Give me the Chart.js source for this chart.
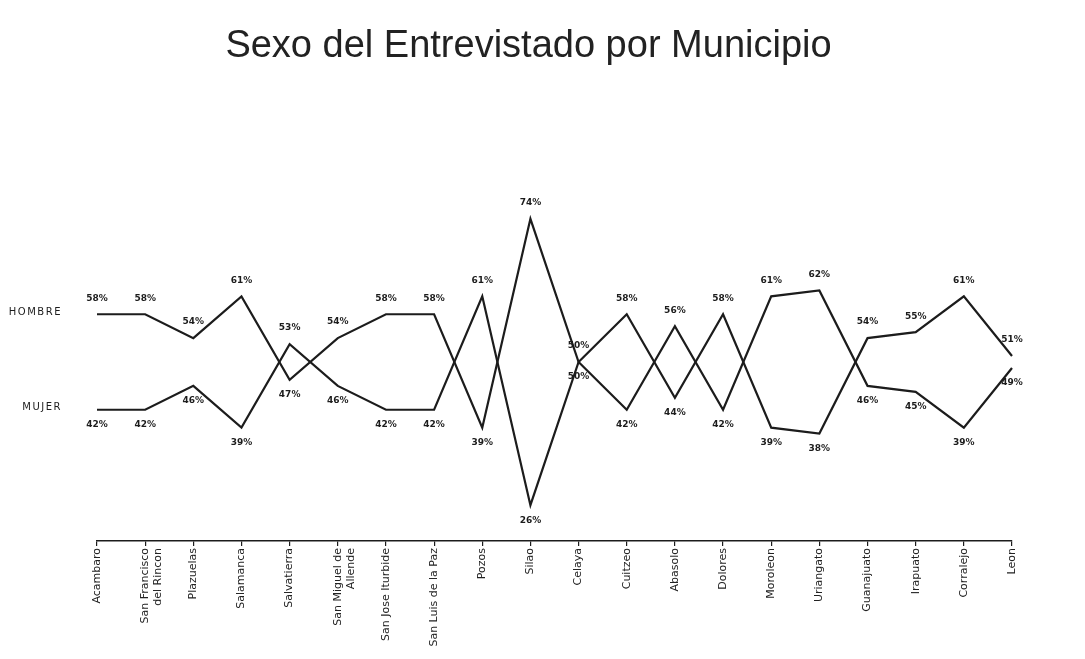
<!DOCTYPE html>
<html>
<head>
<meta charset="utf-8">
<script src="https://cdn.jsdelivr.net/npm/chart.js@4.4.1/dist/chart.umd.min.js"></script>
<style>
  html, body { margin: 0; padding: 0; background: #ffffff; }
  #wrap { width: 1085px; height: 659px; position: relative; }
</style>
</head>
<body>
<div id="wrap"><canvas id="c" width="1085" height="659"></canvas></div>
<script>
// ---- Data ----
const titleText = 'Sexo del Entrevistado por Municipio';
const municipios = [
  'Acambaro', ['San Francisco', 'del Rincon'], 'Plazuelas', 'Salamanca', 'Salvatierra',
  ['San Miguel de', 'Allende'], 'San Jose Iturbide', 'San Luis de la Paz', 'Pozos', 'Silao',
  'Celaya', 'Cuitzeo', 'Abasolo', 'Dolores', 'Moroleon', 'Uriangato', 'Guanajuato',
  'Irapuato', 'Corralejo', 'Leon'
];
const seriesNames = ['HOMBRE', 'MUJER'];
const hombre = [58, 58, 54, 61, 47, 54, 58, 58, 39, 74, 50, 58, 44, 58, 39, 38, 54, 55, 61, 51];
const mujer  = [42, 42, 46, 39, 53, 46, 42, 42, 61, 26, 50, 42, 56, 42, 61, 62, 46, 45, 39, 49];

const ink = '#1c1c1c';

const bgPlugin = {
  id: 'bg',
  beforeDraw(chart) {
    const ctx = chart.ctx;
    ctx.save();
    ctx.fillStyle = '#ffffff';
    ctx.fillRect(0, 0, chart.width, chart.height);
    ctx.restore();
  }
};

const titlePlugin = {
  id: 'customTitle',
  afterDraw(chart) {
    const ctx = chart.ctx;
    ctx.save();
    ctx.fillStyle = '#222222';
    ctx.font = '38px "Liberation Sans", Arial, sans-serif';
    ctx.textAlign = 'center';
    ctx.textBaseline = 'middle';
    ctx.fillText(titleText, chart.width / 2 - 14, 47);
    ctx.restore();
  }
};

const labelPlugin = {
  id: 'pointLabels',
  afterDatasetsDraw(chart) {
    const ctx = chart.ctx;
    const d0 = chart.data.datasets[0].data;
    const d1 = chart.data.datasets[1].data;
    ctx.save();
    ctx.fillStyle = ink;
    ctx.textAlign = 'center';
    ctx.textBaseline = 'middle';
    ctx.font = 'bold 9px "DejaVu Sans", sans-serif';
    chart.data.datasets.forEach((ds, di) => {
      const meta = chart.getDatasetMeta(di);
      meta.data.forEach((pt, i) => {
        const v = ds.data[i];
        const other = di === 0 ? d1[i] : d0[i];
        const upper = v > other || (v === other && di === 0);
        const y = upper ? pt.y - 16 : pt.y + 15;
        ctx.fillText(v + '%', pt.x, y);
      });
    });
    // series names at the left end of each line
    ctx.font = '10px "DejaVu Sans", sans-serif';
    ctx.textAlign = 'right';
    try { ctx.letterSpacing = '1.5px'; } catch (e) {}
    chart.data.datasets.forEach((ds, di) => {
      const meta = chart.getDatasetMeta(di);
      const p = meta.data[0];
      ctx.fillText(ds.label, chart.chartArea.left - 35, p.y - 2);
    });
    ctx.restore();
  }
};

new Chart(document.getElementById('c'), {
  type: 'line',
  data: {
    labels: municipios,
    datasets: [
      { label: seriesNames[0], data: hombre, borderColor: ink, borderWidth: 2.2, pointRadius: 0, tension: 0, fill: false },
      { label: seriesNames[1], data: mujer, borderColor: ink, borderWidth: 2.2, pointRadius: 0, tension: 0, fill: false }
    ]
  },
  options: {
    responsive: false,
    animation: false,
    devicePixelRatio: 1,
    layout: { padding: { left: 97, right: 73, top: 183, bottom: 0 } },
    plugins: {
      legend: { display: false },
      title: { display: false },
      tooltip: { enabled: false }
    },
    scales: {
      x: {
        offset: false,
        afterFit(scale) { scale.height = 118; },
        border: { display: true, color: ink, width: 1.6 },
        grid: { display: true, drawOnChartArea: false, drawTicks: true, tickLength: 5, color: ink, lineWidth: 1.2 },
        ticks: {
          autoSkip: false,
          maxRotation: 90,
          minRotation: 90,
          padding: 2,
          color: '#222222',
          font: { family: '"DejaVu Sans", sans-serif', size: 11 }
        }
      },
      y: {
        display: false,
        min: 20,
        max: 80
      }
    }
  },
  plugins: [bgPlugin, titlePlugin, labelPlugin]
});
</script>
</body>
</html>
